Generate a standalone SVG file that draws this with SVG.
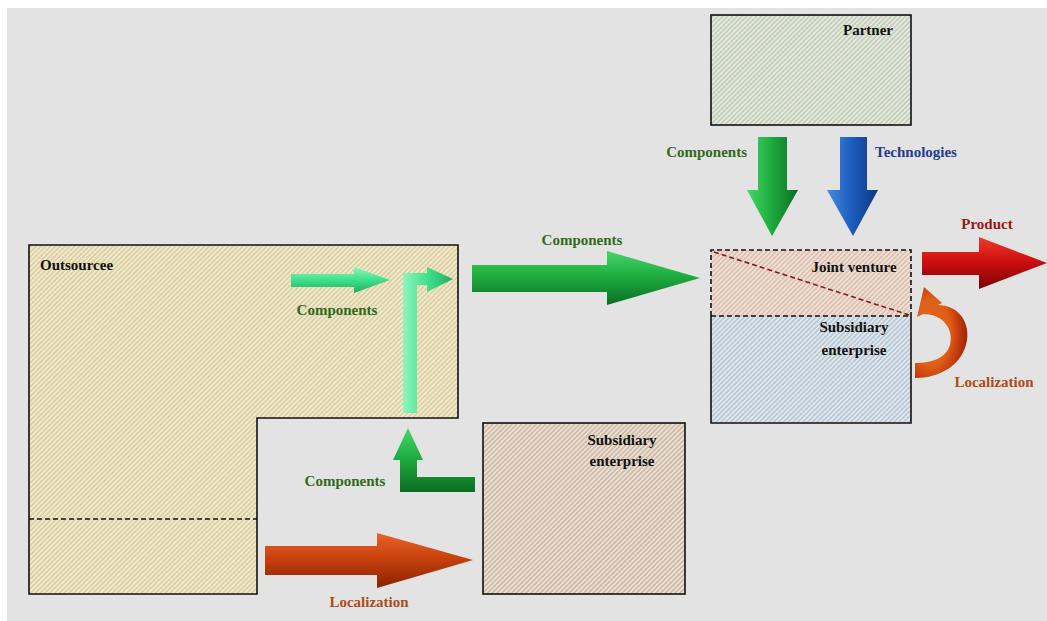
<svg xmlns="http://www.w3.org/2000/svg" width="1047" height="621" viewBox="0 0 1047 621">
<defs>
<style>
text{font-family:"Liberation Serif","Times New Roman",serif;font-weight:bold;font-size:15px}
.blk{fill:#111}
.grn{fill:#2f6a1c}
.blu{fill:#1f3d8c}
.red{fill:#9b1515}
.org{fill:#b04a14}
.box{stroke:#111;stroke-width:1.6}
.dash{stroke:#111;stroke-width:1.6;stroke-dasharray:5 3;fill:none}
</style>
<pattern id="hOut" patternUnits="userSpaceOnUse" width="3.4" height="4" patternTransform="rotate(45)"><rect width="3.4" height="4" fill="#ddd0a0"/><rect width="1.4" height="4" fill="#f3eedb"/></pattern>
<pattern id="hPar" patternUnits="userSpaceOnUse" width="3.4" height="4" patternTransform="rotate(45)"><rect width="3.4" height="4" fill="#c3cfb3"/><rect width="1.4" height="4" fill="#eceff0"/></pattern>
<pattern id="hJV" patternUnits="userSpaceOnUse" width="3.4" height="4" patternTransform="rotate(45)"><rect width="3.4" height="4" fill="#ddc0ad"/><rect width="1.4" height="4" fill="#f3e9e3"/></pattern>
<pattern id="hSub" patternUnits="userSpaceOnUse" width="3.4" height="4" patternTransform="rotate(45)"><rect width="3.4" height="4" fill="#b8c9d5"/><rect width="1.4" height="4" fill="#e9eff3"/></pattern>
<pattern id="hSE" patternUnits="userSpaceOnUse" width="3.4" height="4" patternTransform="rotate(45)"><rect width="3.4" height="4" fill="#cfbba5"/><rect width="1.4" height="4" fill="#f0e9e2"/></pattern>
<linearGradient id="gG" x1="0" y1="0" x2="0" y2="1"><stop offset="0" stop-color="#47d56a"/><stop offset="0.45" stop-color="#1fae40"/><stop offset="1" stop-color="#0b6e22"/></linearGradient>
<linearGradient id="gGv" x1="0" y1="0" x2="1" y2="0"><stop offset="0" stop-color="#47d56a"/><stop offset="0.45" stop-color="#1fae40"/><stop offset="1" stop-color="#0b6e22"/></linearGradient>
<linearGradient id="gL" x1="0" y1="0" x2="0" y2="1"><stop offset="0" stop-color="#8ff5bd"/><stop offset="0.5" stop-color="#3fe08a"/><stop offset="1" stop-color="#1fae62"/></linearGradient>
<linearGradient id="gLv" x1="0" y1="0" x2="1" y2="0"><stop offset="0" stop-color="#8ff5bd"/><stop offset="0.5" stop-color="#3fe08a"/><stop offset="1" stop-color="#1fae62"/></linearGradient>
<linearGradient id="gB" x1="0" y1="0" x2="1" y2="0"><stop offset="0" stop-color="#4a8ae0"/><stop offset="0.45" stop-color="#1e5fc0"/><stop offset="1" stop-color="#0e3780"/></linearGradient>
<linearGradient id="gR" x1="0" y1="0" x2="0" y2="1"><stop offset="0" stop-color="#f03a2a"/><stop offset="0.45" stop-color="#d01010"/><stop offset="1" stop-color="#7c0000"/></linearGradient>
<linearGradient id="gO" x1="0" y1="0" x2="0" y2="1"><stop offset="0" stop-color="#e8642a"/><stop offset="0.45" stop-color="#c8420e"/><stop offset="1" stop-color="#8a2000"/></linearGradient>
<radialGradient id="gOc" cx="0.3" cy="0.5" r="0.8"><stop offset="0.45" stop-color="#e06018"/><stop offset="0.7" stop-color="#c0380c"/><stop offset="1" stop-color="#801800"/></radialGradient>
</defs>
<rect width="1047" height="621" fill="#ffffff"/>
<rect x="7" y="8" width="1040" height="613" fill="#e3e3e3"/>

<g id="outsourcee">
<path class="box" d="M29,245 H458 V418 H257 V594 H29 Z" fill="url(#hOut)"/>
<line class="dash" x1="29" y1="519" x2="257" y2="519"/>
<text class="blk" x="40" y="270" font-size="17">Outsourcee</text>
</g>

<g id="partner">
<rect class="box" x="711" y="15" width="200" height="110" fill="url(#hPar)"/>
<text class="blk" x="893" y="35" text-anchor="end">Partner</text>
</g>

<g id="jointventure">
<rect x="711" y="250" width="200" height="66" fill="url(#hJV)"/>
<rect x="711" y="316" width="200" height="107" fill="url(#hSub)"/>
<path class="box" d="M711,316 V423 H911 V316" fill="none"/>
<path class="dash" d="M711,316 V250 H911 V316"/>
<line class="dash" x1="711" y1="316" x2="911" y2="316"/>
<line x1="714" y1="252" x2="909" y2="315" stroke="#8a1a1a" stroke-width="1.6" stroke-dasharray="5 3"/>
<text class="blk" x="854" y="272" text-anchor="middle">Joint venture</text>
<text class="blk" x="854" y="332" text-anchor="middle">Subsidiary</text>
<text class="blk" x="854" y="355" text-anchor="middle">enterprise</text>
</g>

<g id="subsidiary">
<rect class="box" x="483" y="423" width="202" height="171" fill="url(#hSE)"/>
<text class="blk" x="622" y="445" text-anchor="middle">Subsidiary</text>
<text class="blk" x="622" y="466" text-anchor="middle">enterprise</text>
</g>

<g id="connectors">
<path d="M291,274 H354 V267 L390,280 L354,293 V287 H291 Z" fill="url(#gL)"/>
<path d="M403,413 V273 H427 V267 L453,279 L427,292 V285 H417 V413 Z" fill="url(#gLv)"/>
<text class="grn" x="337" y="315" text-anchor="middle">Components</text>

<path d="M472,265 H607 V251 L700,278 L607,305 V292 H472 Z" fill="url(#gG)"/>
<text class="grn" x="582" y="245" text-anchor="middle">Components</text>

<path d="M758,137 H787 V190 H798 L772,236 L747,190 H758 Z" fill="url(#gGv)"/>
<text class="grn" x="747" y="157" text-anchor="end">Components</text>
<path d="M840,137 H867 V190 H878 L853,236 L827,190 H840 Z" fill="url(#gB)"/>
<text class="blu" x="875" y="157">Technologies</text>

<path d="M922,252 H979 V237 L1047,263 L979,289 V275 H922 Z" fill="url(#gR)"/>
<text class="red" x="987" y="229" text-anchor="middle">Product</text>

<path d="M915,378 C940,378 963,365 967,340 C970,322 958,305 938,305 L942,303 L924,287 L917,317 L923,314 C944,314 954,330 950,345 C946,358 932,363 915,363 Z" fill="url(#gOc)"/>
<text class="org" x="994" y="387" text-anchor="middle">Localization</text>

<path d="M475,477 V492 H400 V460 H393 L408,428 L423,460 H417 V477 Z" fill="url(#gG)"/>
<text class="grn" x="345" y="486" text-anchor="middle">Components</text>

<path d="M265,546 H377 V533 L473,560 L377,588 V575 H265 Z" fill="url(#gO)"/>
<text class="org" x="369" y="607" text-anchor="middle">Localization</text>
</g>
</svg>
